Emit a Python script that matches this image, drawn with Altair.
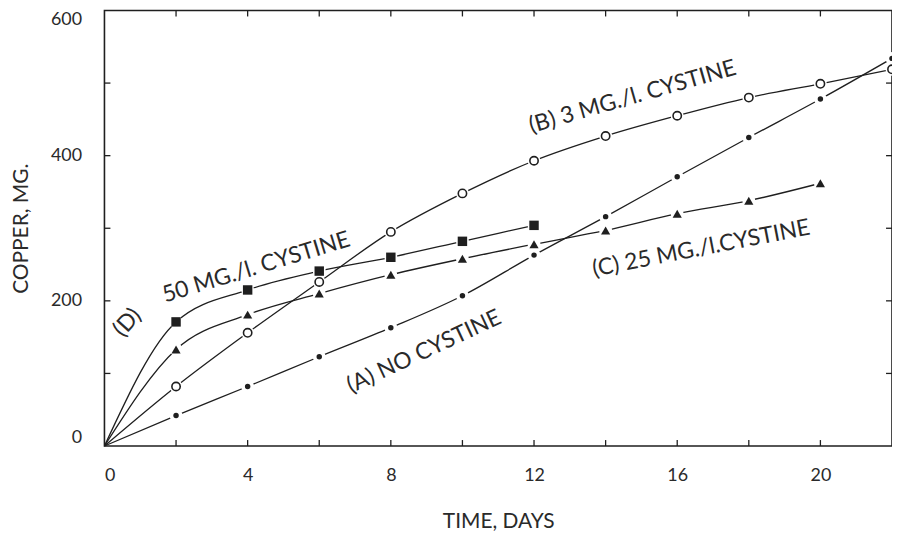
import altair as alt
import pandas as pd

# ---- data ----
days = [0, 2, 4, 6, 8, 10, 12, 14, 16, 18, 20, 22]
a_no_cystine = [0, 42, 82, 123, 163, 207, 263, 316, 371, 425, 478, 534]
b_3mg = [0, 82, 156, 226, 295, 348, 393, 427, 455, 480, 499, 519]
c_25mg = [0, 133, 181, 210, 236, 258, 278, 297, 320, 338, 362]
d_50mg = [0, 171, 215, 241, 260, 282, 304]

x_label_values = [0, 4, 8, 12, 16, 20]
y_label_values = [0, 200, 400, 600]
x_minor_ticks = [2, 4, 6, 8, 10, 12, 14, 16, 18, 20]
y_minor_ticks = [100, 200, 300, 400, 500]

ann_text = ["(D)", "50 MG./l. CYSTINE", "(B)  3 MG./l. CYSTINE",
            "(C)  25 MG./l.CYSTINE", "(A)  NO CYSTINE"]
ann_x = [0.64, 4.24, 14.75, 16.67, 8.93]
ann_y = [170, 246, 481, 272, 130]
ann_angle = [312, 343, 344, 349, 335]

W, H = 792, 438
INK = "#1f1f1f"
TXT = "#2a2a2a"
FONT = "Lato"

rows = []
for name, vals in [("A", a_no_cystine), ("B", b_3mg), ("C", c_25mg), ("D", d_50mg)]:
    for d, v in zip(days, vals):
        rows.append({"series": name, "day": d, "cu": v})
df = pd.DataFrame(rows)
ann = pd.DataFrame({"text": ann_text, "x": ann_x, "y": ann_y, "angle": ann_angle})
xt = pd.DataFrame({"x": x_minor_ticks})
yt = pd.DataFrame({"y": y_minor_ticks})

xs = alt.Scale(domain=[0, 22], nice=False)
ys = alt.Scale(domain=[0, 600], nice=False)

X = alt.X("day:Q", scale=xs, axis=alt.Axis(
    values=x_label_values, title="TIME,  DAYS", labelPadding=30,
    labelBaseline="middle", titleX=W / 2, titleY=76, titleBaseline="middle"))
Y = alt.Y("cu:Q", scale=ys, axis=alt.Axis(
    values=y_label_values, title="COPPER,  MG.", labelPadding=23,
    labelFlush=True, titleX=-83, titleY=H / 2,
    titleAngle=270, titleBaseline="middle", titleAlign="center"))

base = alt.Chart(df).encode(x=X, y=Y)

lines = base.mark_line(interpolate="monotone", color=INK, strokeWidth=1.3).encode(
    detail="series:N")
pts = base.transform_filter("datum.day > 0")
halo = pts.mark_point(filled=True, color="white", opacity=1, size=170, shape="circle")
m_a = pts.transform_filter("datum.series == 'A'").mark_point(
    filled=True, color=INK, opacity=1, size=30, shape="circle")
m_b = pts.transform_filter("datum.series == 'B'").mark_point(
    filled=True, fill="white", stroke=INK, strokeWidth=1.6, opacity=1, size=70, shape="circle")
m_c = pts.transform_filter("datum.series == 'C'").mark_point(
    filled=True, color=INK, opacity=1, size=85, shape="triangle-up")
m_d = pts.transform_filter("datum.series == 'D'").mark_point(
    filled=True, color=INK, opacity=1, size=90, shape="square")

labels = alt.Chart(ann).mark_text(font=FONT, fontSize=23, color=TXT,
                                  baseline="middle", align="center").encode(
    x=alt.X("x:Q", scale=xs), y=alt.Y("y:Q", scale=ys), text="text:N",
    angle=alt.Angle("angle:Q", scale=None))

tick_style = dict(color=INK, strokeWidth=1.3)
t_bottom = alt.Chart(xt).mark_rule(**tick_style).encode(
    x=alt.X("x:Q", scale=xs), y=alt.value(H), y2=alt.value(H - 6))
t_top = alt.Chart(xt).mark_rule(**tick_style).encode(
    x=alt.X("x:Q", scale=xs), y=alt.value(0), y2=alt.value(6))
t_left = alt.Chart(yt).mark_rule(**tick_style).encode(
    y=alt.Y("y:Q", scale=ys), x=alt.value(0), x2=alt.value(6))
t_right = alt.Chart(yt).mark_rule(**tick_style).encode(
    y=alt.Y("y:Q", scale=ys), x=alt.value(W), x2=alt.value(W - 6))

chart = alt.layer(
    lines, halo, m_a, m_b, m_c, m_d, labels, t_bottom, t_top, t_left, t_right
).properties(
    width=W, height=H,
    autosize=alt.AutoSizeParams(type="none"),
    padding={"left": 97, "top": 1, "right": 0, "bottom": 92},
    background="white",
).configure_view(
    stroke=INK, strokeWidth=1.6
).configure_axis(
    grid=False, domain=False, ticks=False,
    labelFont=FONT, labelFontSize=18, labelColor=TXT,
    titleFont=FONT, titleFontSize=21, titleColor=TXT, titleFontWeight="normal",
)

chart.save("out.html", embed_options={"renderer": "svg", "actions": False})
